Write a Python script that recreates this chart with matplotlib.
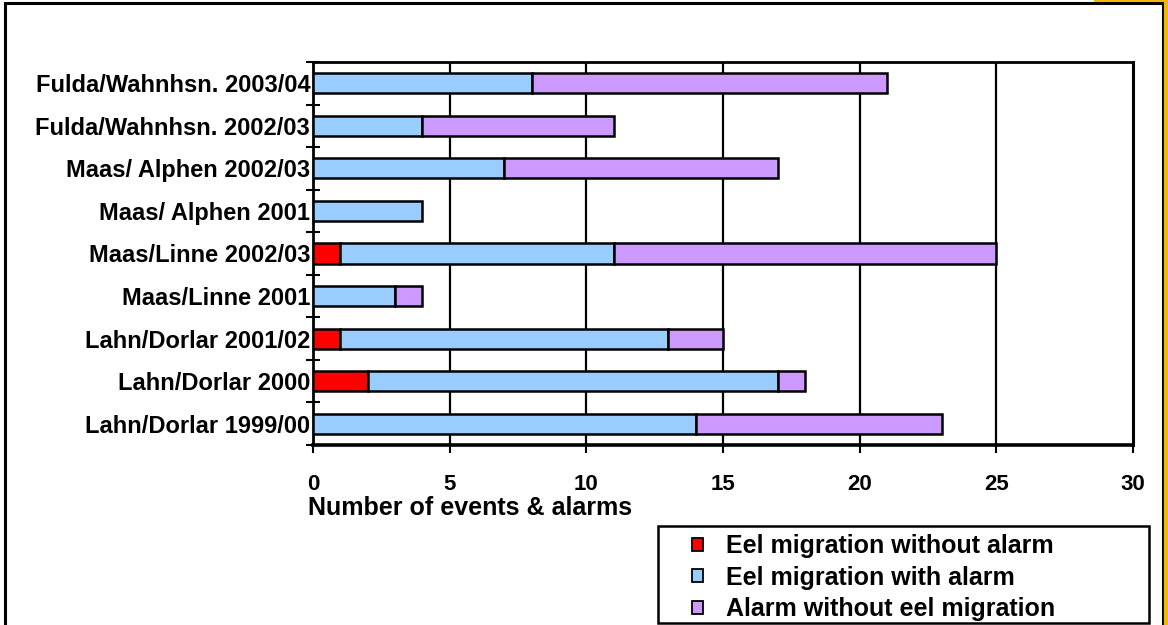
import matplotlib
matplotlib.use("Agg")
import matplotlib.pyplot as plt
from matplotlib.patches import Rectangle, Patch
from matplotlib.lines import Line2D
import numpy as np

plt.rcParams['font.family'] = ['Liberation Sans', 'DejaVu Sans']
plt.rcParams['font.weight'] = 'bold'

# Sites / seasons, listed bottom to top
sites = [
    "Lahn/Dorlar 1999/00",
    "Lahn/Dorlar 2000",
    "Lahn/Dorlar 2001/02",
    "Maas/Linne 2001",
    "Maas/Linne 2002/03",
    "Maas/ Alphen 2001",
    "Maas/ Alphen 2002/03",
    "Fulda/Wahnhsn. 2002/03",
    "Fulda/Wahnhsn. 2003/04",
]
eel_no_alarm = [0, 2, 1, 0, 1, 0, 0, 0, 0]
eel_with_alarm = [14, 15, 12, 3, 10, 4, 7, 4, 8]
alarm_no_eel = [9, 1, 2, 1, 14, 0, 10, 7, 13]

series_labels = [
    "Eel migration without alarm",
    "Eel migration with alarm",
    "Alarm without eel migration",
]
colors = ["#FF0000", "#99CCFF", "#CC99FF"]
x_ticks = [0, 5, 10, 15, 20, 25, 30]
x_label = "Number of events & alarms"

W, H = 1168, 625
fig = plt.figure(figsize=(W / 100, H / 100), dpi=100)
fig.patch.set_facecolor("white")

# outer chart frame and gold edge
fig.add_artist(Rectangle((5 / W, -0.02), (1163 - 5) / W, (H - 3) / H + 0.02,
                         transform=fig.transFigure, fill=False,
                         edgecolor="black", linewidth=2.2, zorder=0))
fig.add_artist(Line2D([1166 / W, 1166 / W], [0, 1], transform=fig.transFigure,
                      color="#F2B705", linewidth=3))
fig.add_artist(Line2D([1095 / W, 1], [1 - 0.8 / H, 1 - 0.8 / H], transform=fig.transFigure,
                      color="#F2B705", linewidth=1.5))

ax = fig.add_axes([313 / W, 1 - 445 / H, (1133 - 313) / W, (445 - 62) / H])

y = np.arange(len(sites)) + 0.5
bar_h = 0.47
left = np.zeros(len(sites))
for vals, col, lab in zip([eel_no_alarm, eel_with_alarm, alarm_no_eel], colors, series_labels):
    vals = np.array(vals, dtype=float)
    mask = vals > 0
    ax.barh(y[mask], vals[mask], left=left[mask], height=bar_h, color=col,
            edgecolor="black", linewidth=1.8, zorder=3, label=lab)
    left += vals

ax.set_xlim(0, 30)
ax.set_ylim(0, len(sites))

for xv in x_ticks[1:-1]:
    ax.axvline(xv, color="black", linewidth=1.6, zorder=1)

ax.set_xticks(x_ticks)
ax.set_xticklabels([str(v) for v in x_ticks], fontsize=16, fontweight="bold")
ax.tick_params(axis="x", direction="out", length=6, width=1.5, pad=15)

ax.set_yticks(np.arange(len(sites) + 1))
ax.set_yticklabels([])
ax.set_yticks(y, minor=True)
ax.set_yticklabels(sites, minor=True, fontsize=17, fontweight="bold")
ax.tick_params(axis="y", which="major", direction="inout", length=10, width=1.5)
ax.tick_params(axis="y", which="minor", length=0, pad=2)

for side, lw in [("left", 2.0), ("bottom", 2.6), ("top", 2.0), ("right", 2.2)]:
    ax.spines[side].set_linewidth(lw)
    ax.spines[side].set_color("black")

fig.text(470 / W, 1 - 508 / H, x_label, ha="center", va="center",
         fontsize=18, fontweight="bold")

# legend box
fig.add_artist(Rectangle((658 / W, 1 - 623 / H), (1149 - 658) / W, (623 - 526) / H,
                         transform=fig.transFigure, fill=False,
                         edgecolor="black", linewidth=1.8))
handles = [Patch(facecolor=c, edgecolor="black", linewidth=1.3) for c in colors]
fig.legend(handles, series_labels, loc="upper left",
           bbox_to_anchor=(692 / W, 1 - 534 / H), frameon=False,
           borderpad=0, borderaxespad=0, handlelength=0.42, handleheight=0.42,
           handletextpad=0.95, labelspacing=0.3,
           prop={"size": 18, "weight": "bold"})

fig.savefig("out.png", dpi=100)
